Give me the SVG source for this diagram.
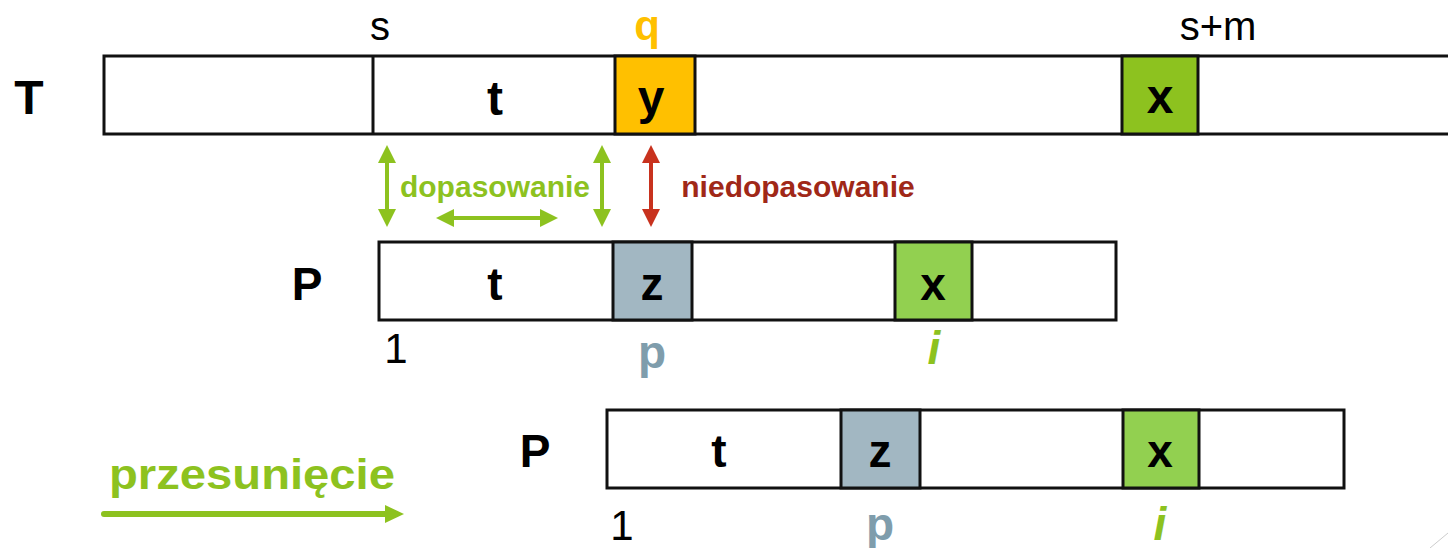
<svg xmlns="http://www.w3.org/2000/svg" width="1448" height="548" viewBox="0 0 1448 548">
<style>
.cell{fill:#fff;stroke:#111;stroke-width:3}
.div{stroke:#111;stroke-width:3}
.b{font-family:"Liberation Sans",Arial,sans-serif;font-weight:bold;text-anchor:middle;fill:#000}
.r{font-family:"Liberation Sans",Arial,sans-serif;text-anchor:middle;fill:#000}
</style>
<defs>
<marker id="hg" markerUnits="userSpaceOnUse" markerWidth="18" markerHeight="18" refX="0" refY="9" orient="auto-start-reverse"><path d="M0,0 L18,9 L0,18 z" fill="#8DC21F"/></marker>
<marker id="hr" markerUnits="userSpaceOnUse" markerWidth="18" markerHeight="18" refX="0" refY="9" orient="auto-start-reverse"><path d="M0,0 L18,9 L0,18 z" fill="#C8321E"/></marker>
</defs>
<rect width="1448" height="548" fill="#fff"/>

<g id="rowT">
<text class="b" x="29" y="114" font-size="48">T</text>
<rect class="cell" x="104" y="56" width="1360" height="78"/>
<rect x="615" y="56" width="80" height="78" fill="#FFC000" stroke="#111" stroke-width="3"/>
<rect x="1122" y="56" width="76" height="78" fill="#8DC21F" stroke="#111" stroke-width="3"/>
<line class="div" x1="373" y1="56" x2="373" y2="134"/>
<text class="r" x="380" y="40" font-size="40">s</text>
<text class="b" x="647" y="40" font-size="42" style="fill:#FFC000">q</text>
<text class="r" x="1218" y="40" font-size="40">s+m</text>
<text class="b" x="495" y="115" font-size="48">t</text>
<text class="b" x="651" y="114" font-size="48">y</text>
<text class="b" x="1160" y="113" font-size="48">x</text>
</g>

<g id="rowP1">
<text class="b" x="307" y="300" font-size="46">P</text>
<rect class="cell" x="379" y="242" width="737" height="78"/>
<rect x="613" y="242" width="79" height="78" fill="#A2B7C2" stroke="#111" stroke-width="3"/>
<rect x="895" y="242" width="77" height="78" fill="#92D050" stroke="#111" stroke-width="3"/>
<text class="b" x="495" y="300" font-size="46">t</text>
<text class="b" x="652" y="300" font-size="46">z</text>
<text class="b" x="933" y="300" font-size="46">x</text>
<text class="r" x="396" y="363" font-size="42">1</text>
<text class="b" x="652" y="368" font-size="46" style="fill:#7F9DAC">p</text>
<text class="b" x="934" y="364" font-size="46" font-style="italic" style="fill:#8DC21F">i</text>
</g>

<g id="rowP2">
<text class="b" x="535" y="467" font-size="46">P</text>
<rect class="cell" x="607" y="410" width="737" height="78"/>
<rect x="841" y="410" width="79" height="78" fill="#A2B7C2" stroke="#111" stroke-width="3"/>
<rect x="1123" y="410" width="76" height="78" fill="#92D050" stroke="#111" stroke-width="3"/>
<text class="b" x="719" y="467" font-size="46">t</text>
<text class="b" x="880" y="467" font-size="46">z</text>
<text class="b" x="1160" y="467" font-size="46">x</text>
<text class="r" x="622" y="540" font-size="42">1</text>
<text class="b" x="880" y="540" font-size="46" style="fill:#7F9DAC">p</text>
<text class="b" x="1160" y="540" font-size="46" font-style="italic" style="fill:#8DC21F">i</text>
</g>

<g id="labels">
<text class="b" x="495" y="197" font-size="30" style="fill:#8DC21F">dopasowanie</text>
<text class="b" x="798" y="197" font-size="30" style="fill:#A02818">niedopasowanie</text>
<text class="b" x="252" y="489" font-size="42" textLength="286" lengthAdjust="spacingAndGlyphs" style="fill:#8DC21F">przesunięcie</text>
</g>

<g id="connectors" fill="none">
<line x1="387" y1="163" x2="387" y2="209" stroke="#8DC21F" stroke-width="4" marker-start="url(#hg)" marker-end="url(#hg)"/>
<line x1="602" y1="163" x2="602" y2="209" stroke="#8DC21F" stroke-width="4" marker-start="url(#hg)" marker-end="url(#hg)"/>
<line x1="454" y1="218" x2="540" y2="218" stroke="#8DC21F" stroke-width="4" marker-start="url(#hg)" marker-end="url(#hg)"/>
<line x1="651" y1="163" x2="651" y2="209" stroke="#C8321E" stroke-width="4" marker-start="url(#hr)" marker-end="url(#hr)"/>
<line x1="104" y1="514" x2="386" y2="514" stroke="#8DC21F" stroke-width="6" stroke-linecap="round"/>
<polygon points="385,505 404,514 385,523" fill="#8DC21F"/>
</g>
<line x1="1430" y1="548" x2="1448" y2="533" stroke="#ccc" stroke-width="1"/>
</svg>
